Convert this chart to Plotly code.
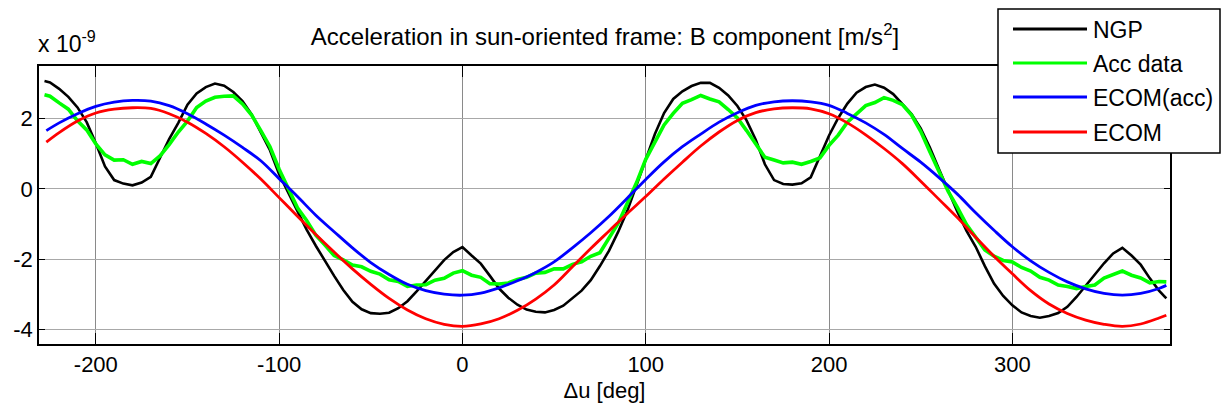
import plotly.graph_objects as go

# ---------------- data (values in units of 1e-9 m/s^2) ----------------
x_fine = [-228, -225, -220, -215, -210, -205, -200, -195, -190, -185, -180, -175, -170, -165,
          -160, -155, -150, -145, -140, -135, -130, -125, -120, -115, -110, -105, -100, -95,
          -90, -85, -80, -75, -70, -65, -60, -55, -50, -45, -40, -35, -30, -25, -20, -15,
          -10, -5, 0, 5, 10, 15, 20, 25, 30, 35, 40, 45, 50, 55, 60, 65, 70, 75, 80, 85,
          90, 95, 100, 105, 110, 115, 120, 125, 130, 135, 140, 145, 150, 155, 160, 165,
          170, 175, 180, 185, 190, 195, 200, 205, 210, 215, 220, 225, 230, 235, 240, 245,
          250, 255, 260, 265, 270, 275, 280, 285, 290, 295, 300, 305, 310, 315, 320, 325,
          330, 335, 340, 345, 350, 355, 360, 365, 370, 375, 380, 384]

ngp = [3.07, 3.03, 2.85, 2.62, 2.32, 1.90, 1.30, 0.64, 0.25, 0.15, 0.10, 0.18, 0.34, 0.90,
       1.42, 1.88, 2.40, 2.72, 2.90, 3.00, 2.94, 2.76, 2.50, 2.12, 1.62, 1.10, 0.42, -0.12,
       -0.66, -1.16, -1.62, -2.06, -2.48, -2.88, -3.22, -3.43, -3.54, -3.56, -3.53, -3.40,
       -3.20, -2.92, -2.62, -2.32, -2.03, -1.80, -1.66, -1.90, -2.13, -2.48, -2.84, -3.10,
       -3.30, -3.44, -3.50, -3.52, -3.45, -3.33, -3.12, -2.90, -2.60, -2.20, -1.76, -1.22,
       -0.62, 0.10, 0.88, 1.56, 2.16, 2.56, 2.78, 2.93, 3.02, 3.02, 2.88, 2.66, 2.36, 1.95,
       1.40, 0.70, 0.25, 0.14, 0.12, 0.16, 0.33, 0.92, 1.52, 2.02, 2.43, 2.74, 2.90, 2.97,
       2.88, 2.70, 2.42, 2.13, 1.72, 1.18, 0.56, -0.06, -0.65, -1.20, -1.65, -2.20, -2.70,
       -3.05, -3.32, -3.52, -3.62, -3.67, -3.62, -3.54, -3.36, -3.08, -2.76, -2.43, -2.12,
       -1.84, -1.68, -1.90, -2.16, -2.55, -2.90, -3.12]

acc_data = [2.68, 2.64, 2.45, 2.27, 1.94, 1.68, 1.28, 0.97, 0.82, 0.83, 0.70, 0.78, 0.72, 0.94,
            1.26, 1.62, 1.93, 2.32, 2.50, 2.61, 2.64, 2.65, 2.42, 2.10, 1.66, 1.20, 0.56, 0.02,
            -0.54, -0.90, -1.32, -1.60, -1.90, -2.02, -2.17, -2.22, -2.35, -2.43, -2.59, -2.64,
            -2.78, -2.74, -2.73, -2.60, -2.55, -2.40, -2.33, -2.46, -2.52, -2.70, -2.71, -2.68,
            -2.58, -2.52, -2.40, -2.38, -2.28, -2.28, -2.15, -2.08, -1.92, -1.82, -1.38, -0.98,
            -0.40, 0.18, 0.84, 1.33, 1.82, 2.15, 2.44, 2.54, 2.66, 2.56, 2.48, 2.26, 2.02, 1.66,
            1.30, 0.90, 0.82, 0.74, 0.76, 0.70, 0.78, 0.88, 1.24, 1.53, 1.90, 2.14, 2.37, 2.46,
            2.60, 2.52, 2.40, 2.10, 1.64, 1.06, 0.50, -0.07, -0.53, -1.02, -1.38, -1.74, -1.92,
            -2.04, -2.08, -2.24, -2.34, -2.52, -2.60, -2.74, -2.78, -2.84, -2.78, -2.74, -2.54,
            -2.44, -2.34, -2.46, -2.54, -2.68, -2.64, -2.65]

x_coarse = [-227, -220, -210, -200, -190, -180, -170, -160, -150, -140, -130, -120, -110, -100,
            -90, -80, -70, -60, -50, -40, -30, -20, -10, 0, 10, 20, 30, 40, 50, 60, 70, 80,
            90, 100, 110, 120, 130, 140, 150, 160, 170, 180, 190, 200, 210, 220, 230, 240,
            250, 260, 270, 280, 290, 300, 310, 320, 330, 340, 350, 360, 370, 380, 384]

ecom_acc = [1.66, 1.88, 2.14, 2.35, 2.47, 2.52, 2.50, 2.37, 2.14, 1.85, 1.53, 1.18, 0.80, 0.29,
            -0.22, -0.75, -1.22, -1.68, -2.10, -2.44, -2.72, -2.90, -3.00, -3.03, -2.97, -2.82,
            -2.62, -2.38, -2.08, -1.68, -1.25, -0.78, -0.26, 0.27, 0.77, 1.20, 1.56, 1.90, 2.17,
            2.38, 2.48, 2.51, 2.48, 2.38, 2.15, 1.88, 1.55, 1.15, 0.76, 0.32, -0.15, -0.68,
            -1.18, -1.65, -2.05, -2.38, -2.65, -2.85, -2.98, -3.03, -2.98, -2.84, -2.75]

ecom = [1.33, 1.60, 1.93, 2.16, 2.27, 2.31, 2.29, 2.14, 1.90, 1.58, 1.20, 0.76, 0.28, -0.25,
        -0.78, -1.30, -1.80, -2.28, -2.72, -3.12, -3.45, -3.70, -3.86, -3.92, -3.85, -3.70,
        -3.46, -3.14, -2.74, -2.22, -1.70, -1.20, -0.70, -0.22, 0.28, 0.76, 1.22, 1.62, 1.95,
        2.17, 2.28, 2.31, 2.28, 2.14, 1.88, 1.54, 1.15, 0.72, 0.22, -0.30, -0.82, -1.38,
        -1.92, -2.42, -2.90, -3.28, -3.55, -3.74, -3.86, -3.92, -3.85, -3.68, -3.60]

series_names = ["NGP", "Acc data", "ECOM(acc)", "ECOM"]
series_colors = ["#000000", "#00ff00", "#0000ff", "#ff0000"]

x_ticks = [-200, -100, 0, 100, 200, 300]
x_tick_labels = ["-200", "-100", "0", "100", "200", "300"]
y_ticks = [-4, -2, 0, 2]
y_tick_labels = ["-4", "-2", "0", "2"]
SCALE = 1e-9

# ---------------- figure ----------------
W, H = 1222, 413
ML, MR, MT, MB = 39, 52, 66, 69
PW, PH = W - ML - MR, H - MT - MB
FONT = "Liberation Sans, Arial, Helvetica, sans-serif"


def px2x(px):
    return (px - ML) / PW


def py2y(py):
    return (H - MB - py) / PH


def sc(vals):
    return [v * SCALE for v in vals]


fig = go.Figure()
traces = [
    (x_fine, ngp, 2.6, "linear"),
    (x_fine, acc_data, 3.6, "linear"),
    (x_coarse, ecom_acc, 2.8, "spline"),
    (x_coarse, ecom, 2.8, "spline"),
]
for (xs, ys, w, shape), name, col in zip(traces, series_names, series_colors):
    fig.add_trace(go.Scatter(x=xs, y=sc(ys), mode="lines", name=name,
                             line=dict(color=col, width=w, shape=shape),
                             showlegend=False))

axis_common = dict(showline=True, linecolor="black", linewidth=1.5, mirror="ticks",
                   ticks="inside", tickcolor="black", tickwidth=1, zeroline=False,
                   showgrid=True, gridwidth=1,
                   tickfont=dict(family=FONT, size=22, color="black"))

fig.update_xaxes(range=[-231, 386], tickvals=x_ticks, ticktext=x_tick_labels, ticklen=11,
                 gridcolor="#8a8a8a",
                 title=dict(text="\u0394u [deg]", font=dict(family=FONT, size=22, color="black"),
                            standoff=6),
                 **axis_common)
fig.update_yaxes(range=[-4.42 * SCALE, 3.5 * SCALE], tickvals=sc(y_ticks),
                 ticktext=y_tick_labels, ticklen=6, gridcolor="#a8a8a8", **axis_common)

# manual legend (MATLAB style)
shapes = [dict(type="rect", xref="paper", yref="paper",
               x0=px2x(998), x1=px2x(1220), y0=py2y(153), y1=py2y(9),
               line=dict(color="black", width=1.5), fillcolor="white", layer="above")]
annotations = []
legend_rows = [29, 63, 97, 132]
for name, col, ry in zip(series_names, series_colors, legend_rows):
    shapes.append(dict(type="line", xref="paper", yref="paper",
                       x0=px2x(1013), x1=px2x(1087), y0=py2y(ry), y1=py2y(ry),
                       line=dict(color=col, width=3), layer="above"))
    annotations.append(dict(text=name, xref="paper", yref="paper", x=px2x(1091), y=py2y(ry + 1),
                            xanchor="left", yanchor="middle", showarrow=False,
                            font=dict(family=FONT, size=23, color="black")))

# exponent label
annotations.append(dict(text="x 10<sup>-9</sup>", xref="paper", yref="paper",
                        x=px2x(36), y=py2y(42), xanchor="left", yanchor="middle",
                        showarrow=False, font=dict(family=FONT, size=23, color="black")))

fig.update_layout(
    width=W, height=H,
    margin=dict(l=ML, r=MR, t=MT, b=MB),
    paper_bgcolor="white", plot_bgcolor="white",
    title=dict(text="Acceleration in sun-oriented frame: B component [m/s<sup>2</sup>]",
               x=px2x(605), xref="paper", xanchor="center",
               y=1 - 37 / H, yref="container", yanchor="middle",
               font=dict(family=FONT, size=24, color="black")),
    shapes=shapes, annotations=annotations,
    showlegend=False,
)

fig.write_html("out.html", config={"displayModeBar": False},
               post_script="document.body.style.margin='0';document.body.style.padding='0';")
